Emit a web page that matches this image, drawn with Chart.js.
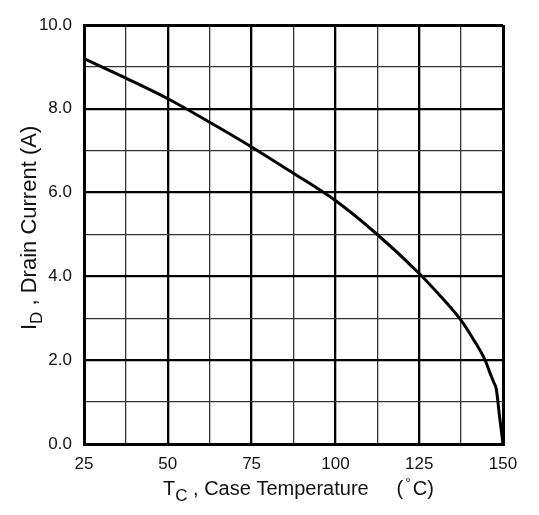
<!DOCTYPE html>
<html>
<head>
<meta charset="utf-8">
<script src="https://cdn.jsdelivr.net/npm/chart.js@4.4.1/dist/chart.umd.min.js"></script>
<style>
  html, body { margin: 0; padding: 0; background: #fff; }
  #wrap { width: 539px; height: 515px; }
</style>
</head>
<body>
<div id="wrap"><canvas id="derating" width="539" height="515"></canvas></div>
<script>
// case temperature (°C) and max drain current (A)
const caseTemp = [25, 37.5, 50, 62.5, 75, 87.5, 100, 112.5, 125, 132, 137.5, 141, 144.5, 146.2, 147.2, 148, 149, 150];
const drainCurrent = [9.2, 8.73, 8.24, 7.68, 7.09, 6.46, 5.81, 5.0, 4.07, 3.47, 2.95, 2.52, 2.03, 1.68, 1.48, 1.31, 0.64, 0];

const xTickLabels = ['25', '50', '75', '100', '125', '150'];
const yTickLabels = ['0.0', '2.0', '4.0', '6.0', '8.0', '10.0'];

const FONT = '"Liberation Sans", Arial, Helvetica, sans-serif';

// draws a run of text pieces (for subscripts / superscript degree)
function drawParts(ctx, parts, x, y) {
    let cx = x;
    parts.forEach(p => {
        ctx.font = p.size + 'px ' + FONT;
        ctx.fillText(p.t, cx + (p.dx || 0), y + (p.dy || 0));
        cx += ctx.measureText(p.t).width + (p.dx || 0);
    });
}

const axisTitles = {
    id: 'axisTitles',
    afterDraw(chart) {
        const ctx = chart.ctx;
        ctx.save();
        ctx.fillStyle = '#111';
        ctx.textBaseline = 'alphabetic';
        ctx.textAlign = 'left';

        drawParts(ctx, [
            { t: 'T', size: 20 },
            { t: 'C', size: 17, dy: 6 },
            { t: ' , Case Temperature     (', size: 20 },
            { t: '°', size: 14, dy: -7, dx: 2 },
            { t: 'C)', size: 20, dx: 2 }
        ], 163, 495);

        ctx.translate(36, 330);
        ctx.rotate(-Math.PI / 2);
        drawParts(ctx, [
            { t: 'I', size: 22 },
            { t: 'D', size: 17, dy: 6 },
            { t: ' , Drain Current (A)', size: 22 }
        ], 0, 0);
        ctx.restore();
    }
};

function gridWidth(edgeLo, edgeHi, major) {
    return function(c) {
        const v = c.tick ? c.tick.value : 0;
        if (v === edgeLo || v === edgeHi) return 3;
        return v % major === 0 ? 2.3 : 1.3;
    };
}
function gridColor(major) {
    return function(c) {
        const v = c.tick ? c.tick.value : 0;
        return v % major === 0 ? '#000' : '#333';
    };
}

new Chart(document.getElementById('derating').getContext('2d'), {
    type: 'line',
    data: {
        datasets: [{
            data: caseTemp.map((t, i) => ({ x: t, y: drainCurrent[i] })),
            borderColor: '#000',
            borderWidth: 3,
            pointRadius: 0,
            cubicInterpolationMode: 'monotone',
            fill: false
        }]
    },
    options: {
        responsive: false,
        animation: false,
        events: [],
        layout: { padding: { top: 25, right: 36, left: 0, bottom: 0 } },
        plugins: {
            legend: { display: false },
            tooltip: { enabled: false }
        },
        scales: {
            x: {
                type: 'linear',
                min: 25,
                max: 150,
                afterFit: s => { s.height = 71; },
                ticks: {
                    stepSize: 12.5,
                    autoSkip: false,
                    maxRotation: 0,
                    padding: 10,
                    color: '#111',
                    font: { family: FONT, size: 17 },
                    callback: v => {
                        const i = xTickLabels.indexOf(String(v));
                        return i >= 0 ? xTickLabels[i] : '';
                    }
                },
                grid: {
                    drawTicks: false,
                    lineWidth: gridWidth(25, 150, 25),
                    color: gridColor(25)
                },
                border: { display: true, width: 3, color: '#000' }
            },
            y: {
                min: 0,
                max: 10,
                afterFit: s => { s.width = 84; },
                ticks: {
                    stepSize: 1,
                    autoSkip: false,
                    padding: 12,
                    color: '#111',
                    font: { family: FONT, size: 17 },
                    callback: v => (v % 2 === 0 ? yTickLabels[v / 2] : '')
                },
                grid: {
                    drawTicks: false,
                    lineWidth: gridWidth(0, 10, 2),
                    color: gridColor(2)
                },
                border: { display: true, width: 3, color: '#000' }
            }
        }
    },
    plugins: [axisTitles]
});
</script>
</body>
</html>
